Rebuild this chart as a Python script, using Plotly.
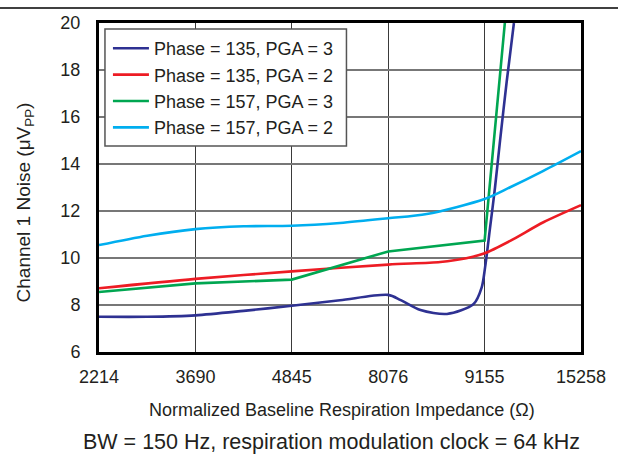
import plotly.graph_objects as go

# Tick labels (category axis, evenly spaced)
categories = ["2214", "3690", "4845", "8076", "9155", "15258"]
y_ticks = [6, 8, 10, 12, 14, 16, 18, 20]

# Series: positions along the category axis (index units) and noise values (uVpp)
p135_g3_x = [0, 0.5, 1, 1.5, 2, 2.5, 3, 3.13, 3.335, 3.61, 3.886, 3.97, 4.005, 4.057, 4.108, 4.16, 4.229, 4.304]
p135_g3_y = [7.50, 7.50, 7.56, 7.75, 7.97, 8.20, 8.43, 8.21, 7.79, 7.62, 8.04, 8.75, 9.6, 11.3, 13.0, 14.98, 17.5, 20.0]

p135_g2_x = [0, 1, 2, 3, 3.54, 3.81, 4, 4.27, 4.61, 5]
p135_g2_y = [8.71, 9.11, 9.43, 9.72, 9.83, 9.99, 10.2, 10.74, 11.52, 12.25]

p157_g3_x = [0, 1, 2, 3, 4, 4.21]
p157_g3_y = [8.55, 8.92, 9.08, 10.28, 10.74, 20.0]

p157_g2_x = [0, 0.5, 1, 1.5, 2, 2.5, 3, 3.4, 4, 4.26, 4.61, 5]
p157_g2_y = [10.55, 10.95, 11.23, 11.35, 11.37, 11.49, 11.69, 11.87, 12.51, 13.0, 13.71, 14.55]

series = [
    ("Phase = 135, PGA = 3", p135_g3_x, p135_g3_y, "#2E3192", "spline"),
    ("Phase = 135, PGA = 2", p135_g2_x, p135_g2_y, "#ED1C24", "spline"),
    ("Phase = 157, PGA = 3", p157_g3_x, p157_g3_y, "#00A651", "linear"),
    ("Phase = 157, PGA = 2", p157_g2_x, p157_g2_y, "#00AEEF", "spline"),
]

FONT = "Liberation Sans, Arial, sans-serif"
TXT = "#231F20"

# plot-area pixel geometry helpers (figure is 618 x 455)
L, R, T, B = 99, 584, 23, 352
def px(xp):
    return (xp - L) / (R - L)
def py(yp):
    return (B - yp) / (B - T)

fig = go.Figure()
for i, (name, xs, ys, col, shape) in enumerate(series):
    fig.add_trace(go.Scatter(
        x=xs, y=ys, mode="lines", name=name, legendgroup=f"g{i}",
        line=dict(color=col, width=2.6, shape=shape, smoothing=0.8 if shape == "spline" else None),
    ))

fig.update_layout(
    width=618, height=455,
    margin=dict(l=L, r=618 - R, t=T, b=455 - B),
    paper_bgcolor="white", plot_bgcolor="white",
    font=dict(family=FONT, color=TXT, size=18),
    showlegend=True,
    legend=dict(
        x=px(108), y=py(30), xanchor="left", yanchor="top",
        bgcolor="rgba(0,0,0,0)", borderwidth=0, itemwidth=36,
        font=dict(size=18, color=TXT, family=FONT),
        traceorder="grouped", tracegroupgap=0,
    ),
    xaxis=dict(
        range=[0, 5], tickmode="array", tickvals=list(range(len(categories))), ticktext=categories,
        showgrid=True, gridcolor="#3a3a3a", gridwidth=1.2,
        showline=True, linecolor="black", linewidth=3, mirror=True,
        ticks="", ticklabelstandoff=6, zeroline=False,
        tickfont=dict(size=18, color=TXT),
    ),
    yaxis=dict(
        range=[6, 20], tickmode="array", tickvals=y_ticks,
        showgrid=True, gridcolor="#777777", gridwidth=1.6,
        showline=True, linecolor="black", linewidth=3, mirror=True,
        ticks="", ticklabelstandoff=12, zeroline=False,
        tickfont=dict(size=18, color=TXT),
    ),
    shapes=[
        dict(type="line", xref="paper", yref="paper",
             x0=-0.21, x1=1.08, y0=py(8), y1=py(8),
             line=dict(color="black", width=1.5)),
        dict(type="rect", xref="paper", yref="paper", layer="above",
             x0=px(105), x1=px(348), y0=py(146), y1=py(29),
             fillcolor="white", line=dict(color="#555555", width=1.5)),
    ],
    annotations=[
        dict(text="Normalized Baseline Respiration Impedance (Ω)", xref="paper", yref="paper",
             x=px(344), y=py(410), xanchor="center", yanchor="middle",
             showarrow=False, font=dict(size=18, color=TXT)),
        dict(text="BW = 150 Hz, respiration modulation clock = 64 kHz", xref="paper", yref="paper",
             x=px(333), y=py(442), xanchor="center", yanchor="middle",
             showarrow=False, font=dict(size=21.5, color=TXT)),
        dict(text="Channel 1 Noise (μV<sub>PP</sub>)", xref="paper", yref="paper",
             x=px(25), y=py(202), xanchor="center", yanchor="middle",
             textangle=-90, showarrow=False, font=dict(size=19, color=TXT)),
    ],
)

fig.write_html("out.html", config={"displayModeBar": False},
               post_script="document.body.style.margin='0';document.body.style.padding='0';")
